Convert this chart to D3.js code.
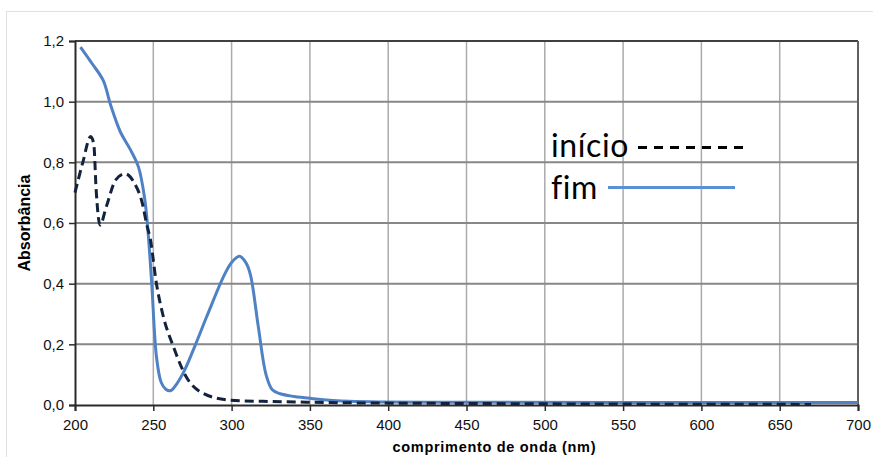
<!DOCTYPE html>
<html>
<head>
<meta charset="utf-8">
<script src="https://cdn.jsdelivr.net/npm/d3@7"></script>
<style>
  body { margin: 0; background: #fff; }
  text { font-family: "Liberation Sans", Arial, sans-serif; }
</style>
</head>
<body>
<div id="chart"></div>
<script>
// wavelength (nm) / absorbance
var inicioNm = [200, 205, 210, 212, 213.5, 216, 220, 226, 232, 238, 243, 246, 248, 252, 256, 263, 271, 282, 299, 320, 342, 380, 450, 550, 670];
var inicioAbs = [0.70, 0.80, 0.885, 0.86, 0.71, 0.593, 0.654, 0.742, 0.762, 0.731, 0.665, 0.59, 0.55, 0.40, 0.30, 0.19, 0.093, 0.038, 0.016, 0.012, 0.010, 0.007, 0.005, 0.003, 0.002];

var fimNm = [203.5, 211, 218, 223, 229, 235, 240.5, 244.5, 246.5, 249, 252, 255, 258, 261, 265, 270, 277, 284, 295, 300, 305, 309, 312, 317, 322, 326, 331, 340, 350, 375, 450, 550, 700];
var fimAbs = [1.18, 1.125, 1.07, 0.985, 0.90, 0.845, 0.785, 0.68, 0.58, 0.40, 0.16, 0.075, 0.052, 0.047, 0.07, 0.115, 0.20, 0.29, 0.425, 0.47, 0.49, 0.47, 0.43, 0.26, 0.10, 0.05, 0.037, 0.028, 0.022, 0.012, 0.009, 0.008, 0.008];

var xTicks = [200, 250, 300, 350, 400, 450, 500, 550, 600, 650, 700];
var yTicks = [0, 0.2, 0.4, 0.6, 0.8, 1.0, 1.2];

var W = 873, H = 457;
var margin = { top: 41, right: 15, bottom: 52, left: 75 };
var width = W - margin.left - margin.right;
var height = H - margin.top - margin.bottom;

var svg = d3.select("#chart").append("svg")
  .attr("width", W)
  .attr("height", H);

// outer frame
svg.append("rect")
  .attr("x", 6.5).attr("y", 11.5)
  .attr("width", 900).attr("height", 500)
  .attr("fill", "none")
  .attr("stroke", "#e0e0e0");

var g = svg.append("g")
  .attr("transform", `translate(${margin.left}, ${margin.top})`);

var x = d3.scaleLinear().domain([200, 700]).range([0, width]);
var y = d3.scaleLinear().domain([0, 1.2]).range([height, 0]);

// vertical grid
g.selectAll(".vgrid")
  .data(xTicks.slice(1, -1))
  .enter().append("line")
  .attr("x1", d => x(d)).attr("x2", d => x(d))
  .attr("y1", 0).attr("y2", height)
  .attr("stroke", "#ababab")
  .attr("stroke-width", 1.5);

// horizontal grid
g.selectAll(".hgrid")
  .data(yTicks.slice(1, -1))
  .enter().append("line")
  .attr("x1", 0).attr("x2", width)
  .attr("y1", d => y(d)).attr("y2", d => y(d))
  .attr("stroke", "#878787")
  .attr("stroke-width", 2);

// top and right border
g.append("line").attr("x1", 0).attr("x2", width).attr("y1", 0).attr("y2", 0)
  .attr("stroke", "#404040").attr("stroke-width", 2);
g.append("line").attr("x1", width).attr("x2", width).attr("y1", 0).attr("y2", height)
  .attr("stroke", "#606060").attr("stroke-width", 2);

// axes
var fmt = d3.format(".1f");
var yAxis = g.append("g")
  .call(d3.axisLeft(y).tickValues(yTicks).tickSize(6).tickPadding(5)
    .tickFormat(d => fmt(d).replace(".", ",")));
var xAxis = g.append("g")
  .attr("transform", `translate(0, ${height})`)
  .call(d3.axisBottom(x).tickValues(xTicks).tickSize(6).tickPadding(8));

[xAxis, yAxis].forEach(function(a) {
  a.select(".domain").attr("stroke", "#2b2b2b").attr("stroke-width", 2);
  a.selectAll(".tick line").attr("stroke", "#2b2b2b").attr("stroke-width", 1.5);
  a.selectAll(".tick text")
    .attr("fill", "#111")
    .style("font-size", "15px")
    .style("font-family", "'Liberation Sans', Arial, sans-serif");
});

// curves
var line = d3.line()
  .x(d => x(d[0]))
  .y(d => y(d[1]));

g.append("path")
  .datum(fimNm.map((v, i) => [v, fimAbs[i]]))
  .attr("d", line.curve(d3.curveCatmullRom.alpha(0.5)))
  .attr("fill", "none")
  .attr("stroke", "#4f81c4")
  .attr("stroke-width", 3);

g.append("path")
  .datum(inicioNm.map((v, i) => [v, inicioAbs[i]]))
  .attr("d", line.curve(d3.curveMonotoneX))
  .attr("fill", "none")
  .attr("stroke", "#13233e")
  .attr("stroke-width", 3)
  .attr("stroke-dasharray", "9,5");

// axis titles
svg.append("text")
  .attr("x", 494).attr("y", 452)
  .attr("text-anchor", "middle")
  .attr("textLength", 203)
  .style("font-weight", "bold")
  .style("font-size", "14.5px")
  .text("comprimento de onda (nm)");

svg.append("text")
  .attr("transform", "translate(30, 223) rotate(-90)")
  .attr("text-anchor", "middle")
  .style("font-weight", "bold")
  .style("font-size", "16px")
  .text("Absorbância");

// legend
var legend = svg.append("g");
legend.append("text")
  .attr("x", 551).attr("y", 157)
  .style("font-family", "Lato, 'Open Sans', sans-serif")
  .style("font-size", "32px")
  .style("letter-spacing", "0.6px")
  .text("início");
legend.append("line")
  .attr("x1", 638).attr("x2", 745).attr("y1", 147.5).attr("y2", 147.5)
  .attr("stroke", "#000").attr("stroke-width", 3)
  .attr("stroke-dasharray", "9,7");
legend.append("text")
  .attr("x", 551).attr("y", 199)
  .style("font-family", "Lato, 'Open Sans', sans-serif")
  .style("font-size", "32px")
  .style("letter-spacing", "0.6px")
  .text("fim");
legend.append("line")
  .attr("x1", 608).attr("x2", 735).attr("y1", 187.5).attr("y2", 187.5)
  .attr("stroke", "#5b8fd6").attr("stroke-width", 3);
</script>
</body>
</html>
